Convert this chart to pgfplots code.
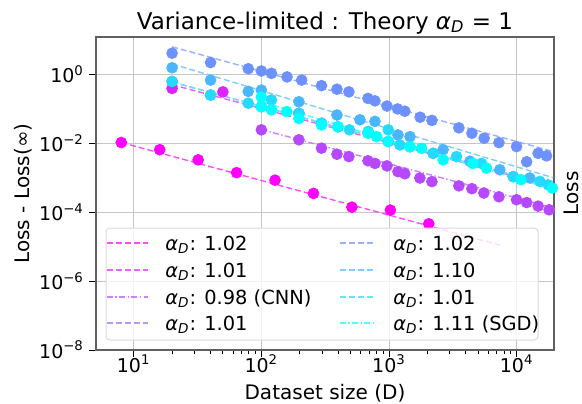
\documentclass[border=0pt]{standalone}
\usepackage{pgfplots}
\pgfplotsset{compat=1.18}
\usepackage{fontspec}
\setmainfont{DejaVu Sans}
\newcommand{\aD}{{\itshape α}\textsubscript{\itshape D}}
\newcommand{\legfont}{\fontsize{9.7}{11}\selectfont}
\definecolor{coolA}{rgb}{1,0,1}
\definecolor{coolB}{rgb}{0.857,0.143,1}
\definecolor{coolC}{rgb}{0.714,0.286,1}
\definecolor{coolD}{rgb}{0.571,0.429,1}
\definecolor{coolE}{rgb}{0.429,0.571,1}
\definecolor{coolF}{rgb}{0.286,0.714,1}
\definecolor{coolG}{rgb}{0.143,0.857,1}
\definecolor{coolH}{rgb}{0,1,1}
\tikzset{
  dsh/.style={dash pattern=on 3pt off 1.5pt, line width=0.7pt},
  dshdot/.style={dash pattern=on 3pt off 1.2pt on 0.7pt off 1.2pt, line width=0.7pt},
  pts/.style={only marks, mark=*, mark size=2.7pt, mark options={draw=#1, fill=#1}},
}
\newcommand{\logtick}{\pgfmathparse{round(\tick/ln(10))}\pgfmathtruncatemacro{\e}{\pgfmathresult}10\textsuperscript{\ifnum\e<0 −\the\numexpr-\e\relax\else\e\fi}}
\begin{document}
\begin{tikzpicture}
\begin{axis}[
  name=ax,
  scale only axis, width=229pt, height=156.5pt,
  xmode=log, ymode=log,
  xmin=5.07, xmax=19600, ymin=1e-8, ymax=12.1,
  xtick={10,100,1000,10000},
  ytick={1e-8,1e-6,1e-4,1e-2,1},
  yminorticks=false,
  xticklabel={\logtick}, yticklabel={\logtick},
  tick label style={font=\fontsize{9.5}{11}\selectfont},
  xticklabel style={yshift=4.5pt},
  yticklabel style={xshift=1pt},
  grid=major, major grid style={gray!45, line width=0.5pt},
  axis line style={gray!75!black, line width=0.9pt},
  tick align=outside, xtick pos=bottom, ytick pos=left,
  major tick length=3.5pt, minor tick length=2pt,
  tick style={black, line width=0.5pt},
]
% series 1 (magenta)
\addplot[pts=coolA] coordinates {(8,0.0105) (16,0.0065) (32,0.0033) (64,0.0014) (128,0.00085) (256,0.00035) (512,0.00014) (1024,0.000115) (2048,0.000046)};
\addplot[draw=coolA!70!white, dsh] coordinates {(8,0.0105) (7400,1.1e-5)};
% series 2 (purple, 1.01)
\addplot[pts=coolB] coordinates {(20,0.39) (50,0.31)};
\addplot[draw=coolB!70!white, dsh] coordinates {(20,0.5) (19300,0.00055)};
% series 3 (CNN)
\addplot[pts=coolC] coordinates {(100,0.0245) (197,0.0126) (296,0.0072) (391,0.0048) (485,0.0041) (684,0.0031) (776,0.0026) (964,0.0022) (1175,0.0015) (1330,0.0013) (1745,0.00098) (2168,0.00077) (3524,0.00058) (4457,0.00048) (5530,0.00036) (7261,0.00028) (9977,0.00023) (11970,0.00019) (14720,0.00015) (17950,0.000117)};
\addplot[draw=coolC!70!white, dshdot] coordinates {(100,0.025) (19300,0.000135)};
% series 4
\addplot[pts=coolD] coordinates {(20,0.62) (40,0.25) (100,0.115) (197,0.074) (296,0.038) (986,0.0112) (2218,0.0051) (9400,0.00107)};
\addplot[draw=coolD!70!white, dsh] coordinates {(20,0.6) (19300,0.00057)};
% series 5 (top blue)
\addplot[pts=coolE] coordinates {(20,4.1) (40,2.2) (79,1.45) (100,1.25) (120,1.07) (159,0.84) (207,0.68) (296,0.47) (391,0.37) (485,0.31) (684,0.20) (776,0.17) (964,0.12) (1167,0.099) (1330,0.085) (1754,0.057) (2168,0.046) (3524,0.028) (4457,0.0195) (5559,0.014) (7261,0.0104) (9977,0.008) (11970,0.0029) (14720,0.0051) (17140,0.0043)};
\addplot[draw=coolE!70!white, dsh] coordinates {(20,6.3) (19300,0.00575)};
% series 6 (1.10)
\addplot[pts=coolF] coordinates {(20,1.55) (40,0.68) (79,0.32) (100,0.35) (197,0.16) (391,0.066) (592,0.048) (776,0.043) (1175,0.0174) (1460,0.0155) (2655,0.0065) (4305,0.0030) (7380,0.0017) (12680,0.00098)};
\addplot[draw=coolF!70!white, dsh] coordinates {(20,2.0) (19300,0.001)};
% series 7 (1.01)
\addplot[pts=coolG] coordinates {(20,0.62) (40,0.25) (79,0.145) (120,0.18) (197,0.074) (296,0.038) (398,0.030) (490,0.0245) (687,0.022) (986,0.0245) (1216,0.0089) (1460,0.0079) (2218,0.0051) (3380,0.0041) (5310,0.0026) (9400,0.00107) (15200,0.00078) (17660,0.00062)};
\addplot[draw=coolG!70!white, dsh] coordinates {(20,0.6) (19300,0.00057)};
% series 8 (SGD)
\addplot[pts=coolH] coordinates {(100,0.22) (100,0.115) (120,0.093) (158,0.083) (197,0.052) (296,0.034) (398,0.030) (684,0.0195) (800,0.0155) (986,0.0112) (1460,0.0079) (1800,0.0071) (2655,0.0033) (4540,0.0026) (5800,0.0019) (10800,0.00088) (19000,0.0005)};
\addplot[draw=coolH!70!white, dshdot] coordinates {(100,0.16) (19300,0.00046)};
\end{axis}
% titles and labels
\node[anchor=base, font=\fontsize{11.5}{14}\selectfont] at ([yshift=4pt]ax.north) {Variance-limited : Theory \aD{} = 1};
\node[anchor=base, font=\fontsize{10}{12}\selectfont] at ([yshift=-24.5pt]ax.south) {Dataset size (D)};
\node[rotate=90, anchor=base, font=\fontsize{10}{12}\selectfont] at ([xshift=-33pt]ax.west) {Loss - Loss(∞)};
\node[rotate=90, anchor=base, font=\fontsize{10}{12}\selectfont] at ([xshift=12pt]ax.east) {Loss};
% legend
\begin{scope}[shift={(ax.south west)}]
\draw[gray!30, fill=white, fill opacity=0.8, rounded corners=2pt, line width=0.5pt] (5pt,5pt) rectangle (221pt,61pt);
\draw[coolA!70!white, dsh] (5.5pt,53.5pt) -- (26pt,53.5pt);
\node[anchor=base west, inner sep=0pt, font=\legfont] at (34.5pt,50pt) {\aD: 1.02};
\draw[coolB!70!white, dsh] (5.5pt,40pt) -- (26pt,40pt);
\node[anchor=base west, inner sep=0pt, font=\legfont] at (34.5pt,36.5pt) {\aD: 1.01};
\draw[coolC!70!white, dshdot] (5.5pt,26.5pt) -- (26pt,26.5pt);
\node[anchor=base west, inner sep=0pt, font=\legfont] at (34.5pt,23pt) {\aD: 0.98 (CNN)};
\draw[coolD!70!white, dsh] (5.5pt,13.5pt) -- (26pt,13.5pt);
\node[anchor=base west, inner sep=0pt, font=\legfont] at (34.5pt,10pt) {\aD: 1.01};
\draw[coolE!70!white, dsh] (122pt,53.5pt) -- (140pt,53.5pt);
\node[anchor=base west, inner sep=0pt, font=\legfont] at (148.5pt,50pt) {\aD: 1.02};
\draw[coolF!70!white, dsh] (122pt,40pt) -- (140pt,40pt);
\node[anchor=base west, inner sep=0pt, font=\legfont] at (148.5pt,36.5pt) {\aD: 1.10};
\draw[coolG!70!white, dsh] (122pt,26.5pt) -- (140pt,26.5pt);
\node[anchor=base west, inner sep=0pt, font=\legfont] at (148.5pt,23pt) {\aD: 1.01};
\draw[coolH!70!white, dshdot] (122pt,13.5pt) -- (140pt,13.5pt);
\node[anchor=base west, inner sep=0pt, font=\legfont] at (148.5pt,10pt) {\aD: 1.11 (SGD)};
\end{scope}
\pgfresetboundingbox
\path[use as bounding box] ([shift={(-48pt,-26.5pt)}]ax.south west) rectangle ++(291pt,201.5pt);
\end{tikzpicture}
\end{document}
